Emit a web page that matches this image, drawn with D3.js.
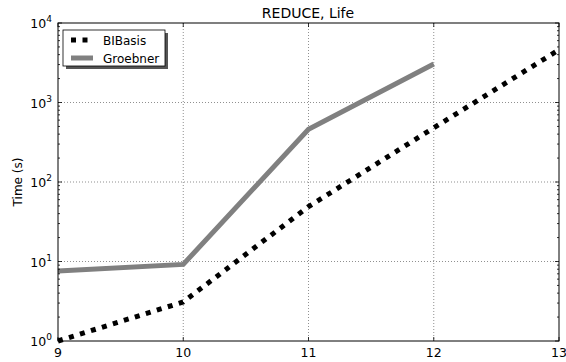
<!DOCTYPE html>
<html>
<head>
<meta charset="utf-8">
<script src="https://cdn.jsdelivr.net/npm/d3@7"></script>
<style>
  body { margin: 0; background: #fff; }
  svg { font-family: "DejaVu Sans", sans-serif; }
</style>
</head>
<body>
<svg width="566" height="362"></svg>
<script>
// values
const sizes = [9, 10, 11, 12, 13];
const bibasis = [1.0, 3.1, 49, 480, 4600];
const groebner = [7.6, 9.2, 460, 3050];
const seriesNames = ['BIBasis', 'Groebner'];
const xTicks = [9, 10, 11, 12, 13];
const yTicks = [1, 10, 100, 1000, 10000];

const svg = d3.select('svg');
const m = {left: 58, right: 559, top: 23, bottom: 341};

const x = d3.scaleLinear().domain([9, 13]).range([m.left, m.right]);
const y = d3.scaleLog().domain([1, 10000]).range([m.bottom, m.top]);

const g = svg.append('g');

// grid
g.selectAll('.vgrid').data(xTicks.slice(1, -1))
  .enter().append('line')
    .attr('x1', d => x(d)).attr('x2', d => x(d))
    .attr('y1', m.top).attr('y2', m.bottom)
    .attr('stroke', '#444').attr('stroke-width', 0.6)
    .attr('stroke-dasharray', '1,2');
g.selectAll('.hgrid').data(yTicks.slice(1, -1))
  .enter().append('line')
    .attr('x1', m.left).attr('x2', m.right)
    .attr('y1', d => y(d)).attr('y2', d => y(d))
    .attr('stroke', '#444').attr('stroke-width', 0.6)
    .attr('stroke-dasharray', '1,2');

// lines
const line = d3.line().x((d, i) => x(sizes[i])).y(d => y(d));

svg.append('path')
  .attr('d', line(groebner))
  .attr('fill', 'none').attr('stroke', '#808080').attr('stroke-width', 5);

svg.append('path')
  .attr('d', line(bibasis))
  .attr('fill', 'none').attr('stroke', '#000').attr('stroke-width', 5)
  .attr('stroke-dasharray', '5,6.5');

// ticks
const ticks = svg.append('g').attr('stroke', '#000').attr('stroke-width', 0.8);
xTicks.forEach(t => {
  ticks.append('line').attr('x1', x(t)).attr('x2', x(t)).attr('y1', m.bottom).attr('y2', m.bottom - 4);
  ticks.append('line').attr('x1', x(t)).attr('x2', x(t)).attr('y1', m.top).attr('y2', m.top + 4);
});
const minors = [];
for (let e = 0; e < 4; e++) for (let k = 2; k < 10; k++) minors.push(k * Math.pow(10, e));
yTicks.forEach(t => {
  ticks.append('line').attr('x1', m.left).attr('x2', m.left + 4).attr('y1', y(t)).attr('y2', y(t));
  ticks.append('line').attr('x1', m.right).attr('x2', m.right - 4).attr('y1', y(t)).attr('y2', y(t));
});
minors.forEach(t => {
  ticks.append('line').attr('x1', m.left).attr('x2', m.left + 2).attr('y1', y(t)).attr('y2', y(t));
  ticks.append('line').attr('x1', m.right).attr('x2', m.right - 2).attr('y1', y(t)).attr('y2', y(t));
});

// frame
svg.append('rect')
  .attr('x', m.left).attr('y', m.top)
  .attr('width', m.right - m.left).attr('height', m.bottom - m.top)
  .attr('fill', 'none').attr('stroke', '#000').attr('stroke-width', 1);

// tick labels
svg.selectAll('.xl').data(xTicks).enter().append('text')
  .attr('x', d => x(d)).attr('y', m.bottom + 16)
  .attr('text-anchor', 'middle').attr('font-size', 12.5)
  .text(d => d);

const yl = svg.selectAll('.yl').data(yTicks).enter().append('text')
  .attr('x', m.left - 6).attr('y', d => y(d) + 5)
  .attr('text-anchor', 'end').attr('font-size', 12.5);
yl.append('tspan').text('10');
yl.append('tspan').attr('dy', -6).attr('font-size', 9).text(d => Math.round(Math.log10(d)));

// title and axis label
svg.append('text').attr('x', 308).attr('y', 18)
  .attr('text-anchor', 'middle').attr('font-size', 14).text('REDUCE, Life');
svg.append('text')
  .attr('transform', 'translate(22,182) rotate(-90)')
  .attr('text-anchor', 'middle').attr('font-size', 12).text('Time (s)');

// legend
const lg = svg.append('g');
lg.append('rect').attr('x', 66).attr('y', 33).attr('width', 102).attr('height', 36).attr('fill', '#555');
lg.append('rect').attr('x', 63).attr('y', 30).attr('width', 102).attr('height', 36)
  .attr('fill', '#fff').attr('stroke', '#000').attr('stroke-width', 0.8);
const styles = [
  {stroke: '#000', dash: '5,6.5'},
  {stroke: '#808080', dash: null}
];
seriesNames.forEach((name, i) => {
  const yy = 40 + i * 18;
  lg.append('line').attr('x1', 71).attr('x2', 93).attr('y1', yy).attr('y2', yy)
    .attr('stroke', styles[i].stroke).attr('stroke-width', 5)
    .attr('stroke-dasharray', styles[i].dash);
  lg.append('text').attr('x', 103).attr('y', yy + 4.5).attr('font-size', 12).text(name);
});
</script>
</body>
</html>
